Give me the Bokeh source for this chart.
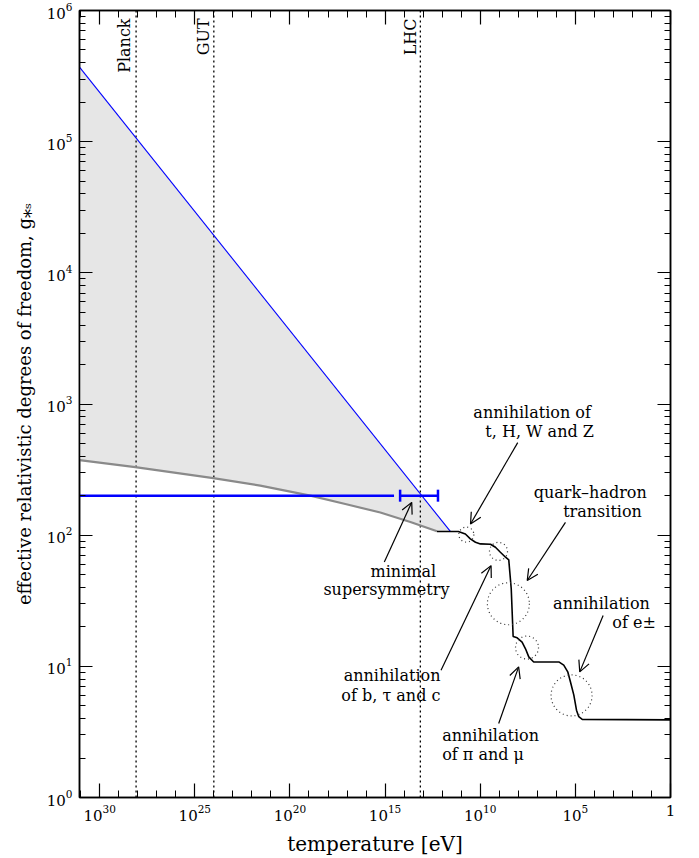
import math
from bokeh.plotting import figure
from bokeh.models import (Range1d, LogAxis, FixedTicker, LogTickFormatter,
                          CustomJSTickFormatter, Arrow, OpenHead, ColumnDataSource)
from bokeh.core.properties import value
from bokeh.embed import file_html
from bokeh.resources import INLINE

# ---------------- data (temperature in eV as log10 exponents, g_*s values) ----
# Standard-model g_*s (black curve)
sm_logT = [12.27, 11.15, 10.78, 10.52, 10.25, 9.99, 9.46, 9.20, 8.94, 8.67, 8.50,
           8.37, 8.27, 8.06, 7.80, 7.62, 7.45, 7.19, 5.87, 5.61, 5.40, 5.26, 5.08,
           4.94, 4.82, 4.64, 0.0]
sm_g = [106.75, 106.75, 102.0, 93.6, 88.3, 85.8, 85.3, 80.9, 74.1, 67.9, 64.8,
        39.0, 16.9, 16.5, 15.3, 13.6, 11.8, 10.8, 10.8, 10.2, 9.08, 7.62, 6.03,
        4.63, 4.13, 3.94, 3.91]

# grey curve (extrapolation above the electroweak scale)
grey_logT = [31.06, 28.13, 24.03, 21.56, 18.93, 17.09, 15.25, 13.67, 12.27]
grey_g = [373.0, 330.0, 272.0, 238.7, 200.4, 172.9, 148.8, 126.0, 107.1]

# blue straight line (upper bound)
blue_logT = [31.06, 11.57]
blue_g = [3.7e5, 106.75]

# minimal supersymmetry level and scale range
susy_g = 200.0
susy_line_logT = [31.06, 14.53]
susy_bar_logT = [14.21, 12.22]

# energy scales
scale_names = ["Planck", "GUT", "LHC"]
scale_T = [1.22e28, 1.0e24, 1.4e13]
scale_lab_logT = [28.70, 24.54, 13.69]
scale_lab_g = [8.7e5, 8.7e5, 8.7e5]

# dotted circles marking transitions
circ_logT = [10.73, 9.04, 8.52, 7.54, 5.2]
circ_g = [101.0, 75.2, 30.0, 13.9, 6.0]
circ_diam_px = [15, 18, 42, 23, 41]

# annotation arrows (start -> tip)
arr_start_logT = [8.03, 5.52, 3.54, 9.03, 12.06, 15.04]
arr_start_g = [508.0, 125.3, 24.4, 3.67, 9.33, 62.5]
arr_end_logT = [10.51, 7.53, 4.77, 7.98, 9.43, 13.6]
arr_end_g = [121.7, 45.1, 9.07, 9.9, 58.6, 177.9]

# annotation texts
lab_text = ["annihilation of", "t, H, W and Z", "quark\u2013hadron", "transition",
            "annihilation", "of e\u00b1", "annihilation", "of \u03c0 and \u03bc",
            "annihilation", "of b, \u03c4 and c", "minimal", "supersymmetry"]
lab_logT = [10.36, 9.73, 7.19, 5.64, 6.17, 3.06, 12.0, 12.0, 12.09, 12.09, 14.04, 14.93]
lab_g = [859.0, 616.0, 212.0, 152.0, 30.0, 21.5, 2.99, 2.13, 8.51, 6.03, 52.5, 38.3]
lab_align = ["left", "left", "left", "left", "left", "left", "left", "left",
             "right", "right", "center", "center"]

x_major = [10.0 ** k for k in range(0, 31, 5)]
x_minor = [10.0 ** k for k in range(0, 32)]
y_major = [10.0 ** k for k in range(0, 7)]
y_minor = [m * 10.0 ** k for k in range(0, 6) for m in range(2, 10)]

tlog = lambda arr: [10.0 ** e for e in arr]

# ---------------- figure ----------------
SERIF = "DejaVu Serif"
p = figure(width=699, height=858, x_axis_type="log", y_axis_type="log",
           x_range=Range1d(10.0 ** 31.06, 1.0), y_range=Range1d(1.0, 1.0e6),
           output_backend="svg", toolbar_location=None,
           min_border_left=79, min_border_right=29, min_border_top=10,
           min_border_bottom=59)
p.grid.visible = False
p.outline_line_color = "black"
p.outline_line_width = 1.5
p.background_fill_color = "white"
p.border_fill_color = "white"

# shaded region between blue line and grey curve
patch_x = tlog(blue_logT) + tlog(grey_logT)[::-1]
patch_y = blue_g + grey_g[::-1]
p.patch(patch_x, patch_y, fill_color="#e6e6e6", line_color=None)

# vertical scale lines
for T in scale_T:
    p.line([T, T], [1.0, 1.0e6], line_color="black", line_dash="2 3", line_width=1.3)

p.line(tlog(grey_logT), grey_g, line_color="#8a8a8a", line_width=2.2)
p.line(tlog(blue_logT), blue_g, line_color="#0000ff", line_width=1.1)

# SUSY level
p.line(tlog(susy_line_logT), [susy_g, susy_g], line_color="#0000ff", line_width=2.5)
p.line(tlog(susy_bar_logT), [susy_g, susy_g], line_color="#0000ff", line_width=2.5)
p.scatter(tlog(susy_bar_logT), [susy_g, susy_g], marker="dash", angle=math.pi / 2,
          size=12, line_color="#0000ff", line_width=2.5)

p.line(tlog(sm_logT), sm_g, line_color="black", line_width=1.6)

p.scatter(tlog(circ_logT), circ_g, size=circ_diam_px, marker="circle",
          fill_color=None, line_color="#333333", line_dash="1 3", line_width=1.2)

arr_src = ColumnDataSource(dict(xs=tlog(arr_start_logT), ys=arr_start_g,
                                xe=tlog(arr_end_logT), ye=arr_end_g))
p.add_layout(Arrow(end=OpenHead(size=11, line_width=1.2, line_color="black"),
                   x_start="xs", y_start="ys", x_end="xe", y_end="ye",
                   source=arr_src, line_width=1.2, line_color="black"))

lab_src = ColumnDataSource(dict(x=tlog(lab_logT), y=lab_g, text=lab_text, align=lab_align))
p.text(x="x", y="y", text="text", source=lab_src, text_align="align",
       text_baseline="middle", text_font=value(SERIF), text_font_size=value("16px"),
       text_color="black")

p.text(x=tlog(scale_lab_logT), y=scale_lab_g, text=scale_names, angle=math.pi / 2,
       text_align="right", text_baseline="middle",
       text_font=value(SERIF), text_font_size=value("16px"), text_color="black")

# ---------------- axes ----------------
def style_axis(ax, major_len, minor_len):
    ax.major_tick_in = major_len
    ax.major_tick_out = 0
    ax.minor_tick_in = minor_len
    ax.minor_tick_out = 0
    ax.axis_line_color = "black"
    ax.axis_line_width = 1.5
    ax.major_tick_line_color = "black"
    ax.minor_tick_line_color = "black"
    ax.major_tick_line_width = 1.2
    ax.minor_tick_line_width = 1.0

xa = p.xaxis[0]
xa.ticker = FixedTicker(ticks=x_major, minor_ticks=x_minor)
xa.formatter = LogTickFormatter()
xa.major_label_overrides = {1.0: "1"}
style_axis(xa, 14, 7)
xa.major_label_standoff = 7
xa.major_label_text_font = SERIF
xa.major_label_text_font_size = "15px"
xa.major_label_text_color = "black"
xa.axis_label = "temperature [eV]"
xa.axis_label_text_font = SERIF
xa.axis_label_text_font_size = "20px"
xa.axis_label_text_font_style = "normal"
xa.axis_label_text_color = "black"
xa.axis_label_standoff = 8

ya = p.yaxis[0]
ya.ticker = FixedTicker(ticks=y_major, minor_ticks=y_minor)
ya.formatter = LogTickFormatter()
style_axis(ya, 13, 6)
ya.major_label_standoff = 7
ya.major_label_text_font = SERIF
ya.major_label_text_font_size = "15px"
ya.major_label_text_color = "black"
ya.axis_label = "effective relativistic degrees of freedom, g\u204e\u209b"
ya.axis_label_text_font = SERIF
ya.axis_label_text_font_size = "18px"
ya.axis_label_text_font_style = "normal"
ya.axis_label_text_color = "black"
ya.axis_label_standoff = 9

blank = CustomJSTickFormatter(code="return ''")
top = LogAxis(ticker=FixedTicker(ticks=x_major, minor_ticks=x_minor), formatter=blank,
              major_label_text_font_size="0px", major_label_standoff=0)
style_axis(top, 14, 7)
p.add_layout(top, "above")
right = LogAxis(ticker=FixedTicker(ticks=y_major, minor_ticks=y_minor), formatter=blank,
                major_label_text_font_size="0px", major_label_standoff=0)
style_axis(right, 13, 6)
p.add_layout(right, "right")

open("out.html", "w").write(file_html(p, INLINE))
